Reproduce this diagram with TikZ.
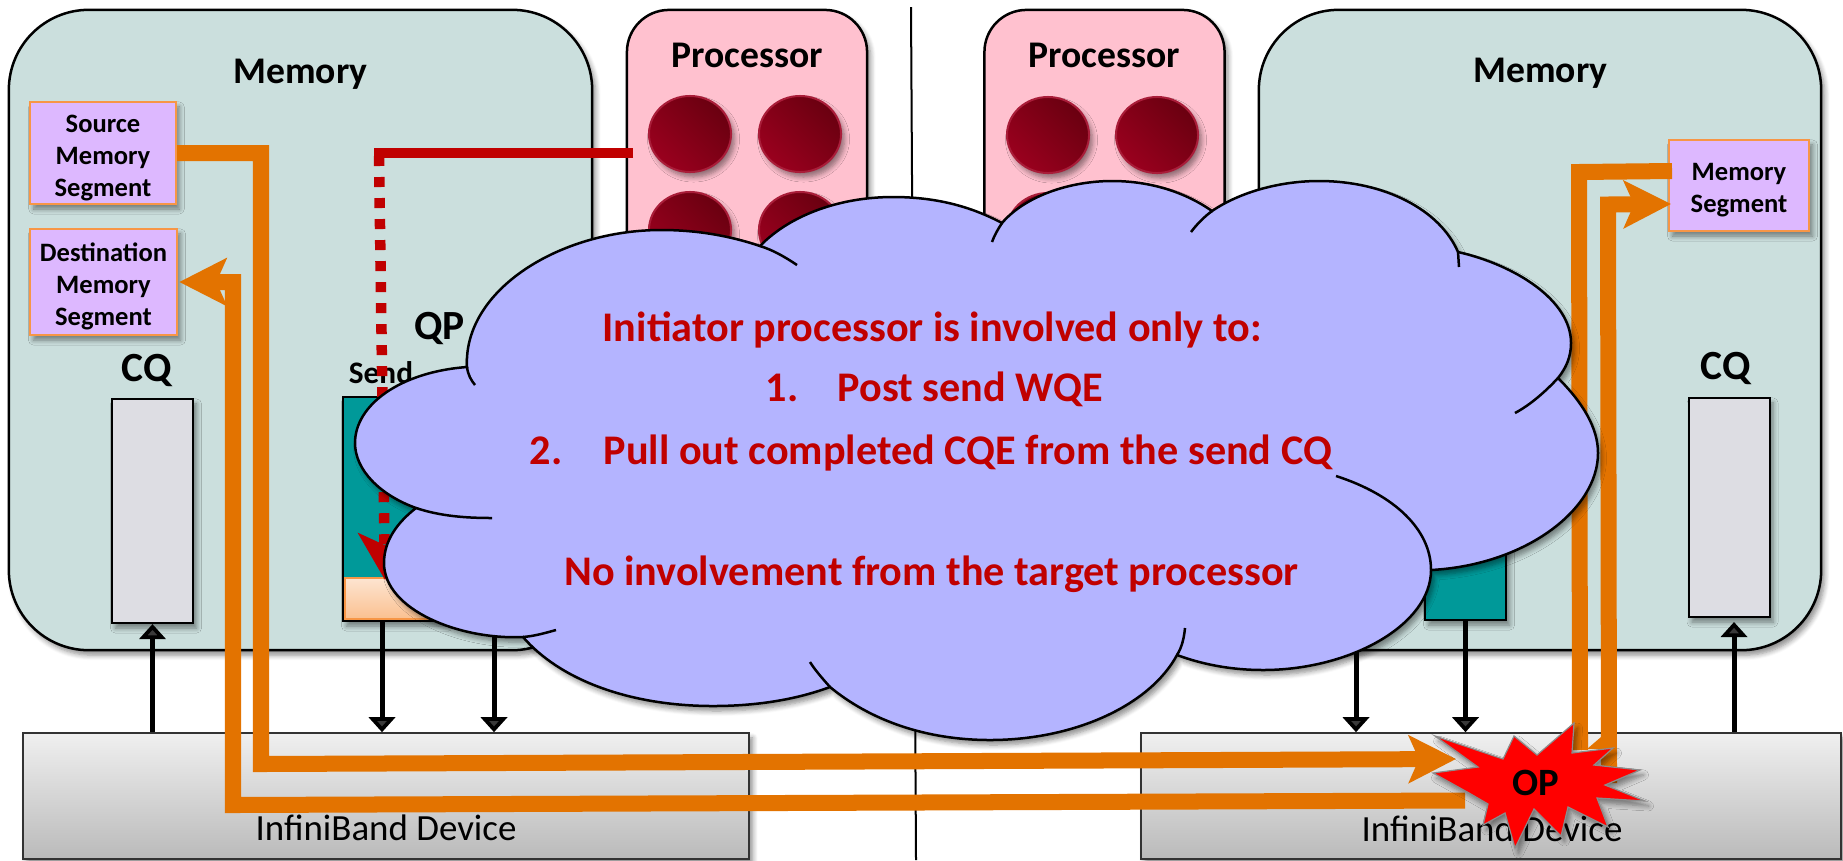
\documentclass[tikz,border=0pt]{standalone}
\usepackage{fontspec}
\setmainfont{Carlito}
\usetikzlibrary{arrows.meta,shadows.blur}
\definecolor{memfill}{HTML}{CBDFDD}
\definecolor{procfill}{HTML}{FFC1CF}
\definecolor{segfill}{HTML}{DDB8FF}
\definecolor{segline}{HTML}{F79646}
\definecolor{cqfill}{HTML}{DDDDE3}
\definecolor{qpfill}{HTML}{009999}
\definecolor{cloudfill}{HTML}{B4B4FF}
\definecolor{redtext}{HTML}{C00000}
\definecolor{flow}{HTML}{E37300}
\definecolor{cpulight}{HTML}{9A001E}
\definecolor{cpudark}{HTML}{6A0010}
\tikzset{
	softshadow/.style={blur shadow={shadow xshift=.035cm,shadow yshift=-.05cm,shadow blur radius=.05cm,shadow blur steps=6,shadow opacity=45}},
	membox/.style={draw=black,line width=.025cm,fill=memfill,rounded corners=.8cm,minimum width=#1,minimum height=6.4cm,softshadow},
	procbox/.style={draw=black,line width=.025cm,fill=procfill,rounded corners=.42cm,minimum width=2.4cm,minimum height=3cm,softshadow},
	cpu/.style={draw=cpulight!85!procfill,line width=.02cm,top color=cpudark,bottom color=cpulight,shading angle=-45,softshadow},
	segbox/.style={draw=segline,line width=.025cm,fill=segfill,align=center,inner sep=0pt,font=\bfseries\fontsize{7.55}{9.1}\selectfont,softshadow},
	cqbox/.style={draw=black,line width=.02cm,fill=cqfill,minimum width=.81cm,softshadow},
	qpbox/.style={draw=black,line width=.02cm,fill=qpfill,softshadow},
	devbox/.style={draw=black!80,line width=.015cm,top color=black!6,bottom color=black!27,minimum height=1.26cm,softshadow},
	biglabel/.style={font=\bfseries\fontsize{10.7}{12}\selectfont,anchor=base},
	qlabel/.style={font=\bfseries\fontsize{11.8}{13}\selectfont,anchor=base},
	devlabel/.style={font=\fontsize{10.5}{12}\selectfont,anchor=base},
	cloudtext/.style={font=\bfseries\fontsize{12}{14}\selectfont,text=redtext,anchor=base west,inner sep=0pt},
	busarrow/.style={line width=.05cm,-{Triangle[length=.15cm,width=.26cm]}},
	flowline/.style={line width=.16cm,draw=flow,line join=miter},
	flowarrow/.style={flowline,-{Stealth[length=.47cm,width=.47cm,inset=.1cm]}},
	cloudline/.style={line width=.025cm,draw=black},
}

\begin{document}
\begin{tikzpicture}[x=.01cm,y=-.01cm]
		%%%%% FRAME %%%%%
		\useasboundingbox (0,0) rectangle (1843,860);
		\draw[line width=.02cm] (911,7) -- (916,860);
		
		%%%%% BACKGROUND BOXES %%%%%
		\node[membox=5.83cm] (memL) at (300.5,330) {};
		\node[membox=5.62cm] (memR) at (1540,330) {};
		\node[procbox] (procL) at (747,160) {};
		\node[procbox] (procR) at (1104.5,160) {};
		\node[biglabel] (memLtext) at (300.5,83.5) {Memory};
		\node[biglabel] (memRtext) at (1540.5,82) {Memory};
		\node[biglabel] (procLtext) at (747.5,67.5) {Processor};
		\node[biglabel] (procRtext) at (1104.5,67.5) {Processor};
		
		\foreach \cx/\cy in {690/134,800/134,690/230,800/230,1048/135,1157/135,1048/231,1157/231}
			\draw[cpu] (\cx,\cy) ellipse (.41cm and .38cm);
		
		\node[devbox,minimum width=7.26cm] (devL) at (386,796) {};
		\node[devbox,minimum width=7cm] (devR) at (1491,796) {};
		\node[devlabel] (devLtext) at (386,840) {InfiniBand Device};
		\node[devlabel] (devRtext) at (1492,841.5) {InfiniBand Device};
		
		%%%%% QUEUES %%%%%
		\node[segbox,minimum width=1.455cm,minimum height=1.02cm] (srcmem) at (103,153) {\rule{0pt}{.27cm}Source\\Memory\\Segment};
		\node[segbox,minimum width=1.47cm,minimum height=1.06cm] (destmem) at (103.5,282) {\rule{0pt}{.27cm}Destination\\Memory\\Segment};
		\node[segbox,minimum width=1.4cm,minimum height=.91cm] (rmtmem) at (1739,185.5) {\rule{0pt}{.27cm}Memory\\Segment};
		
		\node[cqbox,minimum height=2.24cm] (cqL) at (152.5,511) {};
		\node[cqbox,minimum height=2.19cm] (cqR) at (1729,507.5) {};
		\node[qlabel] (cqLtext) at (147,381) {CQ};
		\node[qlabel] (cqRtext) at (1726,379.5) {CQ};
		\node[qlabel] (qptext) at (439.5,339) {QP};
		\node[font=\bfseries\fontsize{8.9}{10}\selectfont,anchor=base] (sendtext) at (381,383) {Send};
		
		\node[qpbox,minimum width=1.02cm,minimum height=2.24cm] (sendL) at (394,509) {};
		\node[qpbox,minimum width=.81cm,minimum height=2.2cm] (sendR) at (1465.5,510) {};
		\node[draw=segline,line width=.02cm,top color=segline!25,bottom color=segline!60,minimum width=.98cm,minimum height=.41cm] (wqe) at (394,598.5) {};
		
		\coordinate (sendLout) at (382,621);
		\coordinate (recvLout) at (494,600);
		\coordinate (recvRout) at (1356,600);
		\coordinate (cqRin) at (1734,622);
		\draw[busarrow] (devL.north -| cqL.south) -- (cqL.south);
		\draw[busarrow] (devR.north -| cqRin) -- (cqRin);
		\draw[busarrow] (sendLout) -- (sendLout |- devL.north);
		\draw[busarrow] (recvLout) -- (recvLout |- devL.north);
		\draw[busarrow] (recvRout) -- (recvRout |- devR.north);
		\draw[busarrow] (sendR.south) -- (sendR.south |- devR.north);
		
		%%%%% FLOWS %%%%%
		\coordinate (opin) at (1456,759);
		\coordinate (opout) at (1465,800.5);
		\coordinate (rmtout) at (1672,171);
		\coordinate (rmtin) at (1671,204);
		\draw[flowarrow] (srcmem.east) -- (261,153) -- (261,764) -- (opin);
		\draw[flowarrow,shorten >=.01cm] (opout) -- (233,805) -- (233,282) -- (destmem.east);
		\draw[flowline] (rmtout) -- (1579,172) -- (1580,750);
		\draw[flowarrow] (1609,783) -- (1608,204.5) -- (rmtin);
		\fill[flow] (1587,749) -- (1601,737) -- (1601,749) -- cycle;
		
		\coordinate (postfrom) at (633,153);
		\coordinate (postmid) at (374,153);
		\coordinate (wqetop) at (385,580);
		\draw[redtext,line width=.105cm] (postfrom) -- (postmid);
		\draw[redtext,line width=.105cm,dash pattern=on .1cm off .11cm,-{Stealth[length=.47cm,width=.52cm,inset=.12cm]}] (379,156) -- (wqetop);
		
		%%%%% OP BURST %%%%%
		\draw[fill=red,draw=black!45,line width=.012cm,softshadow] (1435,736) -- (1503,759) -- (1514,736) -- (1537,755)
			-- (1574,723) -- (1572,753) -- (1613,748) -- (1594,765) -- (1640,770) -- (1605,785) -- (1645,801)
			-- (1597,798) -- (1608,827) -- (1568,807) -- (1561,836) -- (1534,809) -- (1515,848) -- (1505,813)
			-- (1483,825) -- (1488,804) -- (1469,793) -- (1433,773) -- (1478,767) -- cycle;
		\node[font=\bfseries\fontsize{11}{12}\selectfont,anchor=base] (optext) at (1536,795) {OP};
		
		%%%%% CLOUD %%%%%
		\draw[cloudline,fill=cloudfill,softshadow] (467,367)
			.. controls (463,290) and (560,230) .. (661,230)
			.. controls (698,230) and (730,236) .. (760,246)
			.. controls (790,215) and (840,197) .. (893,197)
			.. controls (935,197) and (970,206) .. (1002,223)
			.. controls (1025,196) and (1070,181) .. (1112,181)
			.. controls (1150,181) and (1185,192) .. (1212,211)
			.. controls (1240,192) and (1280,181) .. (1319,181)
			.. controls (1385,181) and (1440,210) .. (1458,252)
			.. controls (1515,265) and (1571,300) .. (1571,343)
			.. controls (1571,357) and (1566,368) .. (1558,378)
			.. controls (1583,403) and (1598,428) .. (1598,453)
			.. controls (1598,510) and (1525,565) .. (1431,570)
			.. controls (1431,625) and (1350,670) .. (1263,670)
			.. controls (1233,670) and (1204,665) .. (1177,655)
			.. controls (1150,705) and (1075,740) .. (990,740)
			.. controls (925,740) and (870,720) .. (830,687)
			.. controls (795,700) and (755,706) .. (713,706)
			.. controls (630,706) and (560,680) .. (523,637)
			.. controls (460,640) and (384,610) .. (384,563)
			.. controls (384,540) and (398,522) .. (416,508)
			.. controls (380,495) and (355,470) .. (355,443)
			.. controls (355,405) and (400,372) .. (467,367)
			-- cycle;
		\draw[cloudline] (760,246) .. controls (773,250) and (785,257) .. (797,265);
		\draw[cloudline] (992,242) .. controls (994,236) and (998,229) .. (1002,223);
		\draw[cloudline] (1191,232) .. controls (1197,224) and (1204,217) .. (1212,211);
		\draw[cloudline] (1458,252) -- (1459,267);
		\draw[cloudline] (1558,378) .. controls (1545,392) and (1530,405) .. (1515,413);
		\draw[cloudline] (1431,570) .. controls (1431,530) and (1395,495) .. (1336,476);
		\draw[cloudline] (1177,655) .. controls (1182,647) and (1184,638) .. (1185,628);
		\draw[cloudline] (830,687) .. controls (822,678) and (815,670) .. (810,662);
		\draw[cloudline] (523,637) .. controls (535,636) and (545,633) .. (556,630);
		\draw[cloudline] (416,508) .. controls (440,516) and (465,518) .. (492,518);
		\draw[cloudline] (467,367) .. controls (468,375) and (471,380) .. (475,385);
		
		\node[cloudtext] (initline) at (602,341) {Initiator processor is involved only to:};
		\node[cloudtext] (postline) at (765,401) {\makebox[.72cm][l]{1.}Post send WQE};
		\node[cloudtext] (pullline) at (529,464) {\makebox[.74cm][l]{2.}Pull out completed CQE from the send CQ};
		\node[cloudtext] (noneline) at (563.5,585) {No involvement from the target processor};
\end{tikzpicture}
\end{document}
